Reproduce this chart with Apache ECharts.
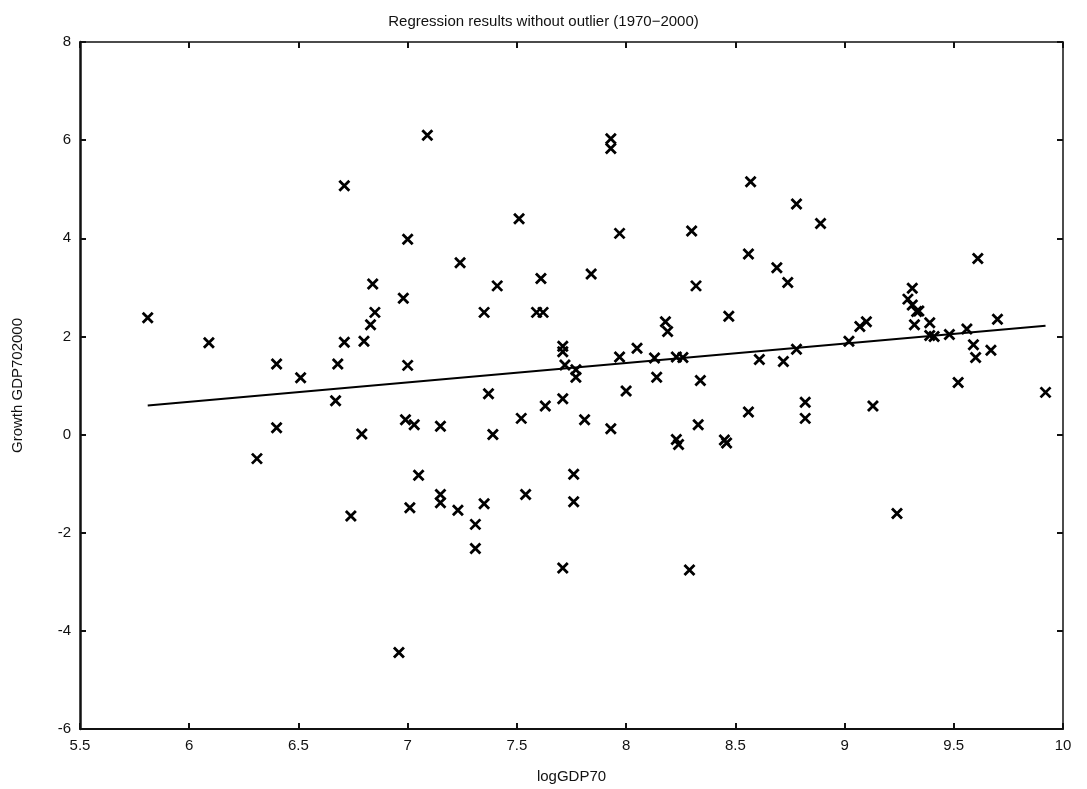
<!DOCTYPE html>
<html>
<head>
<meta charset="utf-8">
<script src="https://cdn.jsdelivr.net/npm/echarts@6/dist/echarts.min.js"></script>
<style>html,body{margin:0;padding:0;background:#fff;}#chart{width:1087px;height:789px;}</style>
</head>
<body>
<div id="chart"></div>
<script>
// logGDP70 values
const logGDP70 = [5.81,6.09,6.31,6.40,6.40,6.51,6.67,6.68,6.71,6.71,6.74,6.79,6.80,6.83,6.84,6.85,6.98,6.96,7.00,7.00,6.99,7.01,7.03,7.05,7.09,7.15,7.15,7.15,7.23,7.24,7.31,7.31,7.35,7.37,7.35,7.39,7.41,7.51,7.52,7.54,7.59,7.62,7.61,7.63,7.84,7.71,7.71,7.72,7.77,7.77,7.71,7.71,7.76,7.76,7.81,7.93,7.93,7.93,7.97,7.97,8.00,8.05,8.13,8.14,8.18,8.19,8.23,8.26,8.23,8.24,8.29,8.30,8.32,8.34,8.33,8.45,8.46,8.47,8.57,8.56,8.56,8.61,8.69,8.72,8.74,8.78,8.78,8.89,8.82,8.82,9.02,9.07,9.10,9.13,9.24,9.31,9.29,9.31,9.33,9.32,9.39,9.39,9.41,9.48,9.52,9.56,9.59,9.60,9.61,9.67,9.70,9.92,9.34];
// Growth GDP 1970-2000 values
const growth = [2.38,1.87,-0.49,1.44,0.14,1.16,0.69,1.44,5.07,1.88,-1.66,0.01,1.90,2.24,3.07,2.49,2.78,-4.44,3.98,1.41,0.30,-1.49,0.20,-0.83,6.10,0.17,-1.22,-1.39,-1.54,3.50,-1.83,-2.32,2.49,0.83,-1.41,0.00,3.03,4.40,0.33,-1.22,2.49,2.49,3.18,0.58,3.27,1.80,1.69,1.42,1.32,1.17,0.73,-2.72,-0.81,-1.37,0.30,6.03,5.83,0.12,4.10,1.58,0.89,1.76,1.56,1.17,2.30,2.10,1.58,1.57,-0.10,-0.20,-2.76,4.15,3.03,1.10,0.20,-0.11,-0.17,2.41,5.15,3.68,0.46,1.53,3.40,1.49,3.10,4.70,1.74,4.30,0.66,0.33,1.90,2.20,2.30,0.58,-1.61,2.98,2.76,2.64,2.51,2.24,2.28,2.02,2.00,2.04,1.06,2.15,1.83,1.57,3.59,1.72,2.35,0.86,2.52];
// regression line end points
const fitX = [5.81, 9.92];
const fitY = [0.59, 2.22];
const xTicks = [5.5,6,6.5,7,7.5,8,8.5,9,9.5,10];
const yTicks = [-6,-4,-2,0,2,4,6,8];

const points = logGDP70.map((x,i)=>[x, growth[i]]);
const fitLine = fitX.map((x,i)=>[x, fitY[i]]);
const font = 'Liberation Sans, Arial, sans-serif';
const txt = '#111';

const chart = echarts.init(document.getElementById('chart'), null, {renderer:'canvas'});
function axisLine(w){ return {show:true, onZero:false, lineStyle:{color:'#111', width:w}}; }
const tick = {show:true, inside:true, length:6, lineStyle:{color:'#111', width:2}};
chart.setOption({
  backgroundColor:'#fff',
  animation:false,
  title:{text:'Regression results without outlier (1970\u22122000)', left:'center', top:9,
    textStyle:{fontFamily:font, fontSize:15, fontWeight:'normal', color:txt}},
  grid:{left:80, right:24, top:42, bottom:59},
  xAxis:[
    {type:'value', min:xTicks[0], max:xTicks[xTicks.length-1], interval:0.5, position:'bottom',
      axisLine:axisLine(2), axisTick:tick, splitLine:{show:false},
      name:'logGDP70', nameLocation:'middle', nameGap:40,
      nameTextStyle:{fontFamily:font, fontSize:15, color:txt},
      axisLabel:{fontFamily:font, fontSize:15, color:txt, margin:9,
        formatter:v=>String(Math.round(v*10)/10)}},
    {type:'value', min:xTicks[0], max:xTicks[xTicks.length-1], interval:0.5, position:'top',
      axisLine:axisLine(1.5), axisTick:tick, splitLine:{show:false}, axisLabel:{show:false}}
  ],
  yAxis:[
    {type:'value', min:yTicks[0], max:yTicks[yTicks.length-1], interval:2, position:'left',
      axisLine:axisLine(2.5), axisTick:tick, splitLine:{show:false},
      name:'Growth GDP702000', nameLocation:'middle', nameGap:55, nameRotate:90,
      nameTextStyle:{fontFamily:font, fontSize:15, color:txt},
      axisLabel:{fontFamily:font, fontSize:15, color:txt, margin:9}},
    {type:'value', min:yTicks[0], max:yTicks[yTicks.length-1], interval:2, position:'right',
      axisLine:axisLine(1.5), axisTick:tick, splitLine:{show:false}, axisLabel:{show:false}}
  ],
  series:[
    {type:'line', data:fitLine, xAxisIndex:0, yAxisIndex:0, showSymbol:false, symbol:'none',
      lineStyle:{color:'#000', width:2}, z:2},
    {type:'scatter', data:points, xAxisIndex:0, yAxisIndex:0,
      symbol:'path://M0,0L10,10M10,0L0,10', symbolSize:10,
      itemStyle:{color:'#000', borderColor:'#000', borderWidth:2.8, opacity:1}, z:3}
  ]
});
</script>
</body>
</html>
